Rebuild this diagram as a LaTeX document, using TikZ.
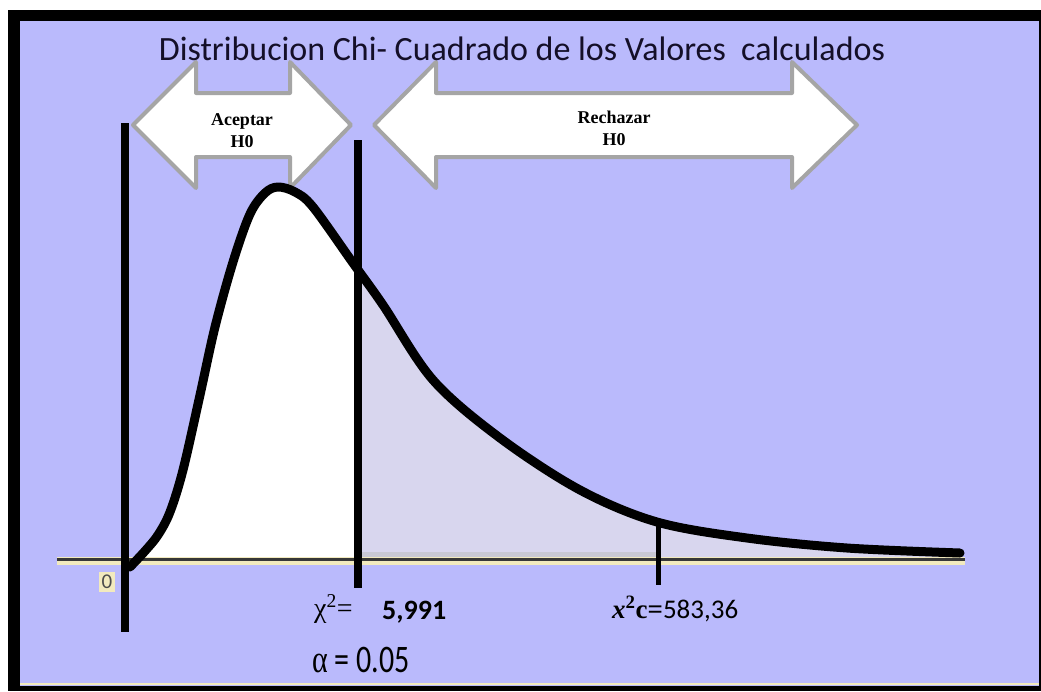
\documentclass[tikz,border=0pt]{standalone}
\usepackage{fontspec}
\setmainfont{Carlito}
\newfontfamily\serifface{Liberation Serif}
\definecolor{panel}{RGB}{186,186,252}
\definecolor{tailfill}{RGB}{216,214,238}
\definecolor{stripgray}{RGB}{200,200,212}
\definecolor{arrowgray}{RGB}{165,165,165}
\definecolor{cream}{RGB}{242,234,190}
\definecolor{axisgray}{RGB}{55,55,55}
\definecolor{titleink}{RGB}{20,15,40}
\newcommand{\chicurve}{plot[smooth,tension=0.55] coordinates {(130,567) (145,551) (158,535) (170,512) (183,470) (200,395) (215,327) (233,262) (250,214) (265,193) (278,187) (295,192) (313,207) (353,263) (383,305) (433,380) (500,438) (580,490) (657,522) (747,538) (847,548) (960,553)}}
\begin{document}
\begin{tikzpicture}[x=1pt,y=-1pt,
    arrowbox/.style={fill=white,draw=arrowgray,line width=4pt,line join=round},
    vline/.style={line width=8pt},
    curve/.style={line width=9pt,line cap=round,line join=round},
    boxtext/.style={font=\serifface\bfseries\fontsize{18}{20}\selectfont,anchor=base}]
    \useasboundingbox (0,0) rectangle (1041,691);
    \fill[white] (0,0) rectangle (1041,691);
    \fill[black] (8,10) rectangle (1041,691);
    \fill[panel] (20,21) rectangle (1039,686);
    \draw[cream,line width=2pt] (20,684) -- (1039,684);
    % area under the curve
    \begin{scope}
        \clip \chicurve -- (965,560) -- (130,560) -- cycle;
        \fill[white] (120,150) rectangle (358,570);
        \fill[tailfill] (358,150) rectangle (970,560);
        \fill[stripgray] (358,552) rectangle (657,560);
    \end{scope}
    % axis
    \draw[cream,line width=8pt] (57,561) -- (965,561);
    \draw[axisgray,line width=3pt] (57,559) -- (965,559);
    \node[fill=cream,inner sep=3pt,text=black!70,font=\fontsize{21}{22}\selectfont] (zero) at (107,582) {0};
    % acceptance and rejection arrows
    \draw[arrowbox] (133,125) -- (196,62) -- (196,93) -- (290,93) -- (290,62) -- (351,125)
        -- (290,188) -- (290,157) -- (196,157) -- (196,188) -- cycle;
    \draw[arrowbox] (374,125) -- (436,62) -- (436,93) -- (792,93) -- (792,62) -- (857,125)
        -- (792,188) -- (792,157) -- (436,157) -- (436,188) -- cycle;
    \node[boxtext] (aceptar) at (242,125) {Aceptar};
    \node[boxtext] (aceptarh) at (242,147) {H0};
    \node[boxtext] (rechazar) at (614,123) {Rechazar};
    \node[boxtext] (rechazarh) at (614,145) {H0};
    % curve and markers
    \draw[curve] \chicurve;
    \draw[vline] (125,123) -- (125,632);
    \draw[vline] (358,140) -- (358,588);
    \draw[line width=5pt] (658,522) -- (658,585);
    % labels
    \node[anchor=base west,inner sep=0pt,font=\serifface\fontsize{28}{30}\selectfont] (chicrit) at (314,617) {χ\textsuperscript{2}=};
    \node[anchor=base west,inner sep=0pt,font=\bfseries\fontsize{28}{30}\selectfont] (chival) at (382,619) {5,991};
    \node[anchor=base west,inner sep=0pt,yscale=1.3,font=\fontsize{30}{32}\selectfont] (alpha) at (312,672) {{\serifface α} = 0.05};
    \node[anchor=base west,inner sep=0pt,font=\fontsize{27}{29}\selectfont] (chicalc) at (612,618)
        {{\serifface\bfseries\itshape x}\textsuperscript{\serifface\bfseries 2}{\serifface\bfseries c=}583,36};
    \node[anchor=base,text=titleink,font=\fontsize{34}{36}\selectfont] (title) at (522,60)
        {Distribucion Chi- Cuadrado de los Valores\ \ calculados};
\end{tikzpicture}
\end{document}
